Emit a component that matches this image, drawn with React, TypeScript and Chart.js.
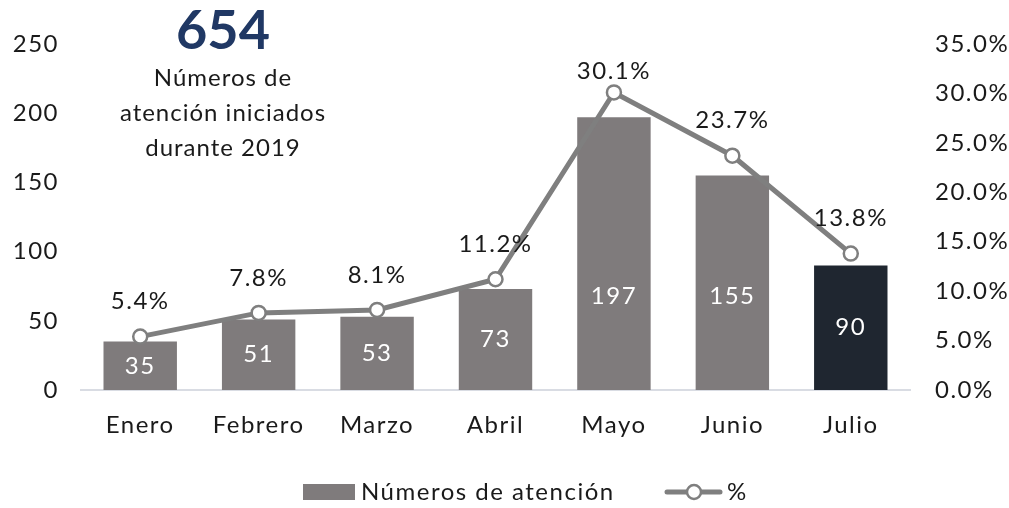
import React, { useEffect, useRef } from "react";
import { Chart, registerables } from "chart.js";

Chart.register(...registerables);

const months = ["Enero", "Febrero", "Marzo", "Abril", "Mayo", "Junio", "Julio"];
const atenciones = [35, 51, 53, 73, 197, 155, 90];
const porcentajes = [5.4, 7.8, 8.1, 11.2, 30.1, 23.7, 13.8];
const barColors = ["#7f7b7c", "#7f7b7c", "#7f7b7c", "#7f7b7c", "#7f7b7c", "#7f7b7c", "#1f2630"];
const titleNumber = "654";
const subtitleLines = ["Números de", "atención iniciados", "durante 2019"];
const legendBar = "Números de atención";
const legendLine = "%";

const FONT = "Lato, 'Open Sans', sans-serif";
const TEXT = "#1a1a1a";
const LINE = "#7f7f7f";
const SIZE = 24;

const labelsPlugin = {
  id: "customLabels",
  beforeDraw(chart: any) {
    chart.ctx.letterSpacing = "1.5px";
  },
  afterDatasetsDraw(chart: any) {
    const ctx = chart.ctx;
    const y = chart.scales.y;
    ctx.save();
    ctx.letterSpacing = "1.5px";
    ctx.textAlign = "center";
    ctx.textBaseline = "middle";
    const barMeta = chart.getDatasetMeta(0);
    ctx.font = `${SIZE}px ${FONT}`;
    ctx.fillStyle = "#ffffff";
    barMeta.data.forEach((bar: any, i: number) => {
      const v = atenciones[i];
      const pos = y.getPixelForValue(Math.min(v / 2, 68));
      ctx.fillText(String(v), bar.x, pos);
    });
    const lineMeta = chart.getDatasetMeta(1);
    ctx.fillStyle = TEXT;
    lineMeta.data.forEach((pt: any, i: number) => {
      const off = i === 4 ? 21 : 35;
      ctx.fillText(porcentajes[i].toFixed(1) + "%", pt.x, pt.y - off);
    });
    ctx.restore();
  },
  afterDraw(chart: any) {
    const ctx = chart.ctx;
    ctx.save();
    ctx.textAlign = "center";
    ctx.textBaseline = "middle";
    ctx.letterSpacing = "0px";
    ctx.fillStyle = "#203864";
    ctx.font = `bold 54px ${FONT}`;
    ctx.fillText(titleNumber, 223, 32);
    ctx.letterSpacing = "1px";
    ctx.fillStyle = TEXT;
    ctx.font = `${SIZE}px ${FONT}`;
    subtitleLines.forEach((l, i) => ctx.fillText(l, 223, 78 + i * 35));
    const ly = 492;
    ctx.letterSpacing = "1.5px";
    ctx.fillStyle = "#7f7b7c";
    ctx.fillRect(303, ly - 8, 52, 16);
    ctx.fillStyle = TEXT;
    ctx.textAlign = "left";
    ctx.font = `${SIZE}px ${FONT}`;
    ctx.fillText(legendBar, 361, ly);
    ctx.strokeStyle = LINE;
    ctx.lineWidth = 5;
    ctx.lineCap = "round";
    ctx.beginPath();
    ctx.moveTo(667, ly);
    ctx.lineTo(720, ly);
    ctx.stroke();
    ctx.beginPath();
    ctx.arc(694, ly, 7, 0, Math.PI * 2);
    ctx.fillStyle = "#ffffff";
    ctx.fill();
    ctx.lineWidth = 2.5;
    ctx.stroke();
    ctx.fillStyle = TEXT;
    ctx.fillText(legendLine, 727, ly);
    ctx.restore();
  },
};

export default function App() {
  const ref = useRef<HTMLCanvasElement | null>(null);
  useEffect(() => {
    document.body.style.margin = "0";
    if (!ref.current) return;
    const chart = new Chart(ref.current, {
      type: "bar",
      data: {
        labels: months,
        datasets: [
          {
            type: "bar",
            label: legendBar,
            data: atenciones,
            backgroundColor: barColors,
            yAxisID: "y",
            barPercentage: 1,
            categoryPercentage: 0.62,
            order: 2,
          },
          {
            type: "line",
            label: legendLine,
            data: porcentajes,
            yAxisID: "y1",
            borderColor: LINE,
            borderWidth: 5,
            pointRadius: 7,
            pointBorderWidth: 2.5,
            pointBackgroundColor: "#ffffff",
            pointBorderColor: LINE,
            tension: 0,
            order: 1,
          } as any,
        ],
      },
      options: {
        animation: false,
        responsive: false,
        maintainAspectRatio: false,
        layout: { padding: { top: 44, bottom: 0, left: 0, right: 0 } },
        plugins: { legend: { display: false }, tooltip: { enabled: false } },
        scales: {
          x: {
            grid: { display: false, drawTicks: false },
            border: { display: true, color: "#d9dce3", width: 2 },
            ticks: { color: TEXT, font: { family: FONT, size: SIZE }, padding: 21 },
            afterFit(s: any) { s.height = 118; },
          },
          y: {
            position: "left",
            min: 0,
            max: 250,
            grid: { display: false, drawTicks: false },
            border: { display: false },
            ticks: { stepSize: 50, color: TEXT, font: { family: FONT, size: SIZE }, padding: 22 },
            afterFit(s: any) { s.width = 81; },
          },
          y1: {
            position: "right",
            min: 0,
            max: 35,
            grid: { display: false, drawTicks: false },
            border: { display: false },
            ticks: {
              stepSize: 5,
              color: TEXT,
              font: { family: FONT, size: SIZE },
              padding: 25,
              callback: (v: any) => Number(v).toFixed(1) + "%",
            },
            afterFit(s: any) { s.width = 99; },
          },
        },
      },
      plugins: [labelsPlugin],
    });
    return () => chart.destroy();
  }, []);
  return (
    <div style={{ position: "absolute", left: 0, top: 0, width: 1009, height: 508, background: "#fff" }}>
      <canvas ref={ref} width={1009} height={508} style={{ width: 1009, height: 508 }} />
    </div>
  );
}
